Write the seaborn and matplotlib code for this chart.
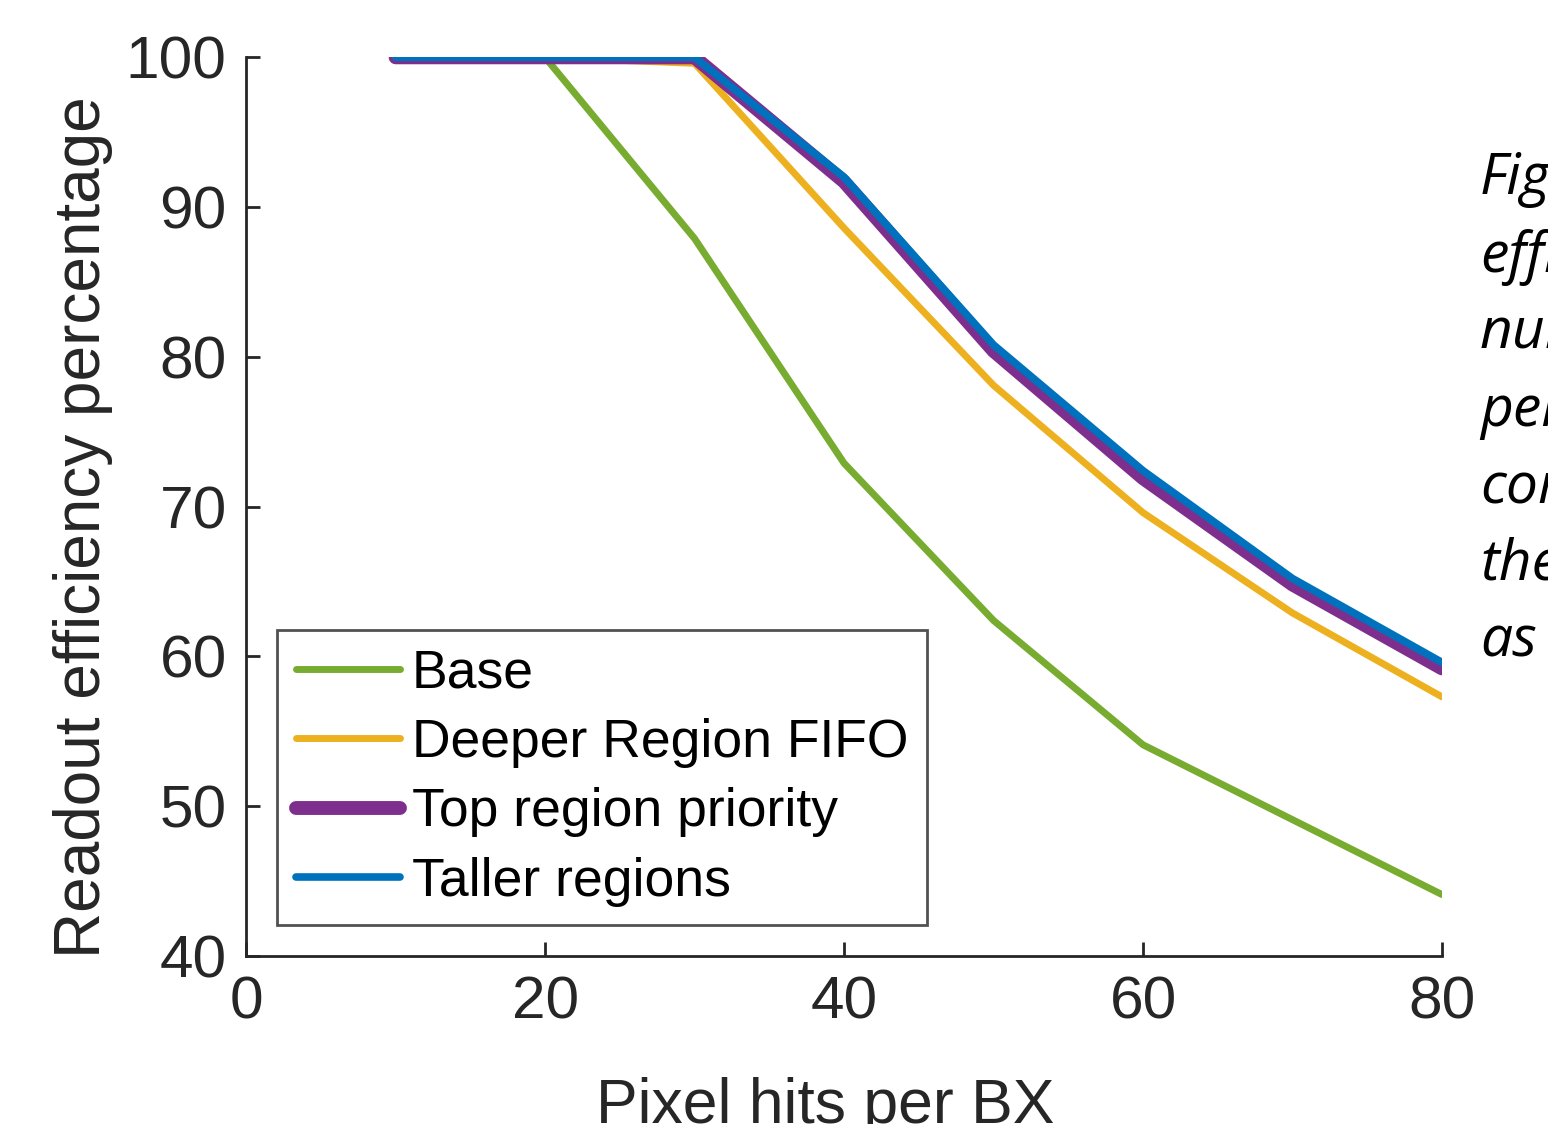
import numpy as np
import pandas as pd
import matplotlib
matplotlib.use("Agg")
import matplotlib.pyplot as plt
import seaborn as sns

# data
hits = [10, 20, 30, 40, 50, 60, 70, 80]
base = [100, 100, 87.9, 72.9, 62.4, 54.1, 49.1, 44.1]
deeper_fifo = [100, 100, 99.6, 88.6, 78.1, 69.6, 62.9, 57.3]
top_priority = [100, 100, 100, 91.7, 80.4, 71.9, 64.8, 59.2]
taller = [100, 100, 100, 92.0, 80.8, 72.4, 65.2, 59.6]

series_names = ["Base", "Deeper Region FIFO", "Top region priority", "Taller regions"]
series_vals = [base, deeper_fifo, top_priority, taller]
colors = ["#77AC30", "#EDB120", "#7E2F8E", "#0072BD"]
widths = [5, 5, 10, 5.5]

caption = ["Figure", "efficiency", "number", "per", "compared", "the", "as"]

sns.set_style("ticks")
plt.rcParams["font.family"] = ["Liberation Sans", "DejaVu Sans"]
ink = "#262626"

fig = plt.figure(figsize=(15.48, 11.24), dpi=100)
ax = fig.add_axes([0.159, 0.1495, 0.7725, 0.7995])

for name, vals, c, w in zip(series_names, series_vals, colors, widths):
    sns.lineplot(x=hits, y=vals, ax=ax, color=c, linewidth=w, label=name)

ax.set_xlim(0, 80)
ax.set_ylim(40, 100)
ax.set_xticks([0, 20, 40, 60, 80])
ax.set_yticks([40, 50, 60, 70, 80, 90, 100])
ax.tick_params(direction="in", length=10, width=2, labelsize=43.5, colors=ink, pad=14)
for s in ["top", "right"]:
    ax.spines[s].set_visible(False)
for s in ["left", "bottom"]:
    ax.spines[s].set_color(ink)
    ax.spines[s].set_linewidth(2)

ax.set_xlabel("Pixel hits per BX", fontsize=45, color=ink, labelpad=28)
ax.set_ylabel("Readout efficiency percentage", fontsize=46, color=ink, labelpad=9)
ax.xaxis.set_label_coords(0.484, -0.085 - 0.05)
ax.yaxis.label.set_y(0.477)

leg = ax.legend(loc="lower left", bbox_to_anchor=(0.026, 0.034), fontsize=38.5,
                frameon=True, fancybox=False, handlelength=1.95, handletextpad=0.22,
                labelspacing=0.36, borderpad=0.35, borderaxespad=0)
leg.get_frame().set_edgecolor(ink)
leg.get_frame().set_linewidth(2)
for t in leg.get_texts():
    t.set_color("black")

for i, word in enumerate(caption):
    fig.text(1480 / 1548, 1 - (180 + i * 77) / 1124, word, fontsize=41,
             style="italic", family=["Open Sans", "DejaVu Sans"],
             va="center", ha="left", color="black")

fig.savefig("out.png", dpi=100)
